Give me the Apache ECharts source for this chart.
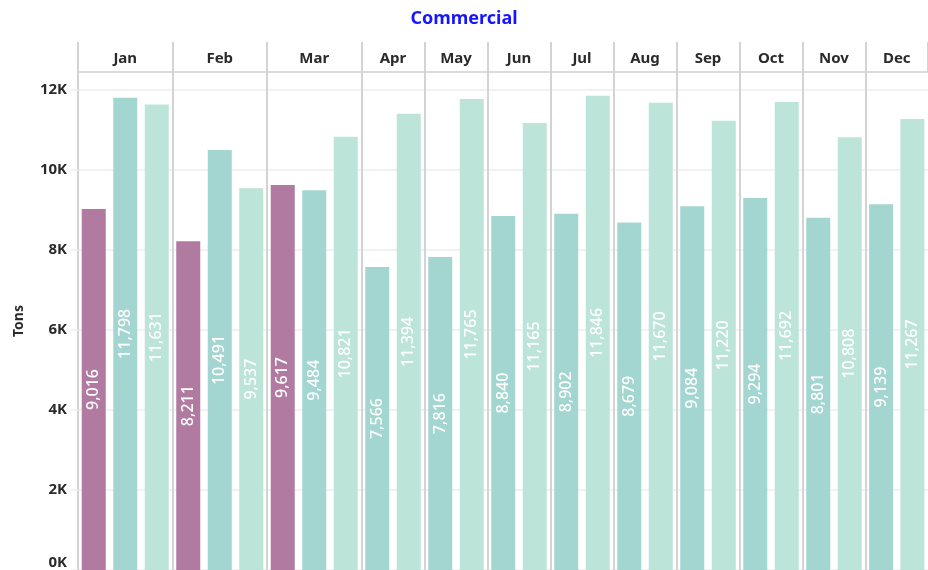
<!DOCTYPE html>
<html>
<head>
<meta charset="utf-8">
<script src="https://cdn.jsdelivr.net/npm/echarts@6/dist/echarts.min.js"></script>
<style>
  html, body { margin: 0; padding: 0; background: #fff; }
  #chart { width: 928px; height: 570px; }
</style>
</head>
<body>
<div id="chart"></div>
<script>
// data
const months = ['Jan', 'Feb', 'Mar', 'Apr', 'May', 'Jun', 'Jul', 'Aug', 'Sep', 'Oct', 'Nov', 'Dec'];
const currentYear = [9016, 8211, 9617, null, null, null, null, null, null, null, null, null];
const priorYear = [11798, 10491, 9484, 7566, 7816, 8840, 8902, 8679, 9084, 9294, 8801, 9139];
const twoYearsAgo = [11631, 9537, 10821, 11394, 11765, 11165, 11846, 11670, 11220, 11692, 10808, 11267];
const yTicks = [0, 2000, 4000, 6000, 8000, 10000, 12000];

const yearNames = ['Current year', 'Prior year', 'Two years ago'];
const yearData = [currentYear, priorYear, twoYearsAgo];
const colors = ['#b07aa1', '#a3d5d1', '#bde4d9'];

const chartDom = document.getElementById('chart');
const myChart = echarts.init(chartDom);

// layout of the panes
const plotLeft = 78;
const slotW = 31.5;
const lineColor = '#d3d3d3';
const font = 'Noto Sans';

const grids = [], xAxes = [], yAxes = [], series = [];
let slot = 0;
months.forEach((m, i) => {
  const cats = [], items = [];
  yearData.forEach((arr, k) => {
    if (arr[i] != null) {
      cats.push(yearNames[k]);
      items.push({ value: arr[i], itemStyle: { color: colors[k] } });
    }
  });
  grids.push({ left: plotLeft + slot * slotW, width: cats.length * slotW, top: 72, bottom: -2 });
  slot += cats.length;

  // bar axis (hidden)
  xAxes.push({
    type: 'category', gridIndex: i, data: cats, position: 'bottom',
    axisLine: { show: false }, axisTick: { show: false }, axisLabel: { show: false }
  });
  // month header
  xAxes.push({
    type: 'category', gridIndex: i, data: [m], position: 'top',
    axisLine: { show: true, lineStyle: { color: lineColor, width: 1.5 } },
    axisTick: { show: true, length: 30, lineStyle: { color: lineColor, width: 2 } },
    axisLabel: { margin: 6, fontFamily: font, fontWeight: 'bold', fontSize: 15, color: '#2a2a2a' }
  });
  yAxes.push({
    type: 'value', gridIndex: i, min: 0, max: 12440, interval: 2000,
    name: i === 0 ? 'Tons' : '', nameLocation: 'middle', nameGap: 52,
    nameTextStyle: { fontFamily: font, fontWeight: 'bold', fontSize: 14, color: '#2a2a2a' },
    axisLine: { show: true, lineStyle: { color: lineColor, width: 2 } },
    axisTick: { show: i === 0, length: 7, lineStyle: { color: '#eeeeee', width: 1.5 } },
    splitLine: { show: true, lineStyle: { color: '#eeeeee', width: 1.5 } },
    axisLabel: {
      show: i === 0, margin: 11, showMaxLabel: false,
      verticalAlignMinLabel: 'bottom',
      fontFamily: font, fontWeight: 'bold', fontSize: 15, color: '#2a2a2a',
      formatter: v => (yTicks.indexOf(v) >= 0 ? v / 1000 + 'K' : '')
    }
  });
  series.push({
    type: 'bar', name: m, xAxisIndex: i * 2, yAxisIndex: i,
    barWidth: 24, data: items,
    label: {
      show: true, position: 'inside', rotate: 90,
      color: '#fff', fontFamily: font, fontWeight: 500, fontSize: 16,
      formatter: p => p.value.toLocaleString('en-US')
    }
  });
});

const option = {
  animation: false,
  title: {
    text: 'Commercial', left: 'center', top: 5,
    textStyle: { color: '#1515ff', fontFamily: font, fontWeight: 'bold', fontSize: 18 }
  },
  grid: grids,
  xAxis: xAxes,
  yAxis: yAxes,
  series: series
};
option && myChart.setOption(option);
</script>
</body>
</html>
